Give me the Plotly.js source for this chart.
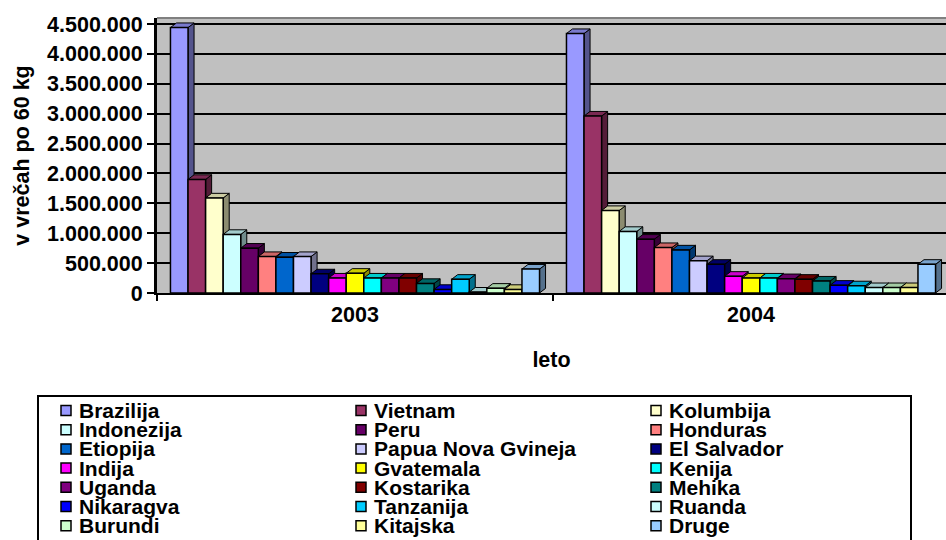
<!DOCTYPE html>
<html>
<head>
<meta charset="utf-8">
<script src="https://cdn.plot.ly/plotly-3.0.1.min.js"></script>
<style>html,body{margin:0;padding:0;background:#fff}</style>
</head>
<body>
<div id="chart" style="width:946px;height:540px"></div>
<script>
// ---- data ----
const years = ['2003', '2004'];
const countries = ['Brazilija', 'Vietnam', 'Kolumbija', 'Indonezija', 'Peru', 'Honduras', 'Etiopija',
  'Papua Nova Gvineja', 'El Salvador', 'Indija', 'Gvatemala', 'Kenija', 'Uganda', 'Kostarika',
  'Mehika', 'Nikaragva', 'Tanzanija', 'Ruanda', 'Burundi', 'Kitajska', 'Druge'];
const values2003 = [4440000, 1900000, 1590000, 980000, 750000, 610000, 600000,
  610000, 320000, 250000, 330000, 250000, 250000, 250000,
  160000, 60000, 230000, 15000, 80000, 60000, 400000];
const values2004 = [4340000, 2960000, 1380000, 1030000, 900000, 760000, 720000,
  540000, 480000, 280000, 250000, 250000, 240000, 230000,
  200000, 130000, 120000, 90000, 90000, 90000, 480000];
const yTickValues = [0, 500000, 1000000, 1500000, 2000000, 2500000, 3000000, 3500000, 4000000, 4500000];
const colors = ['#9999FF', '#993366', '#FFFFCC', '#CCFFFF', '#660066', '#FF8080', '#0066CC',
  '#CCCCFF', '#000080', '#FF00FF', '#FFFF00', '#00FFFF', '#800080', '#800000',
  '#008080', '#0000FF', '#00CCFF', '#CCFFFF', '#CCFFCC', '#FFFF99', '#99CCFF'];

// ---- styling / geometry ----
const FONT = 'Liberation Sans, Arial, Helvetica, sans-serif';
const W = 946, H = 540;
const M = {l: 157, r: 0, t: 18, b: 247};
const xRange = [-0.5, 1.4924];
const yRange = [0, 4600000];
const bargap = 0.068;
const n = countries.length;
const groupW = 1 - bargap;
const bw = groupW / n;
const dx = 0.0152;     // 3D depth, x (category units)
const dy = 77000;      // 3D depth, y (value units)
const fAxis = {family: FONT, size: 21.5, color: '#000', weight: 'bold'};
const fLeg = {family: FONT, size: 21, color: '#000', weight: 'bold'};

function shade(hex, f) {
  const r = parseInt(hex.slice(1, 3), 16), g = parseInt(hex.slice(3, 5), 16), b = parseInt(hex.slice(5, 7), 16);
  return 'rgb(' + Math.round(r * f) + ',' + Math.round(g * f) + ',' + Math.round(b * f) + ')';
}
function fmt(v) {
  return String(v).replace(/\B(?=(\d{3})+(?!\d))/g, '.');
}
const B = s => '<b>' + s + '</b>';

const seriesVals = countries.map((c, k) => [values2003[k], values2004[k]]);

const faceTraces = [];
const barTraces = [];
countries.forEach((name, k) => {
  const sx = [], sy = [], tx = [], ty = [];
  years.forEach((yr, i) => {
    const v = seriesVals[k][i];
    const c = i - groupW / 2 + (k + 0.5) * bw;
    const x0 = c - bw / 2, x1 = c + bw / 2;
    sx.push(x1, x1, x1 + dx, x1 + dx, x1, null);
    sy.push(0, v, v + dy, dy, 0, null);
    tx.push(x0, x1, x1 + dx, x0 + dx, x0, null);
    ty.push(v, v, v + dy, v + dy, v, null);
  });
  faceTraces.push({type: 'scatter', mode: 'lines', x: sx, y: sy, fill: 'toself',
    fillcolor: shade(colors[k], 0.55), line: {color: '#000', width: 1},
    showlegend: false, hoverinfo: 'skip', xaxis: 'x', yaxis: 'y'});
  faceTraces.push({type: 'scatter', mode: 'lines', x: tx, y: ty, fill: 'toself',
    fillcolor: shade(colors[k], 0.8), line: {color: '#000', width: 1},
    showlegend: false, hoverinfo: 'skip', xaxis: 'x', yaxis: 'y'});
  barTraces.push({type: 'bar', name: name, x: [0, 1], y: seriesVals[k],
    marker: {color: colors[k], line: {color: '#000', width: 1.5}},
    showlegend: false, xaxis: 'x2', yaxis: 'y'});
});

// ---- custom legend (3 columns, row-wise) ----
const pw = W - M.l - M.r, ph = H - M.t - M.b;
const px = p => (p - M.l) / pw;
const py = p => (H - M.b - p) / ph;
const shapes = [];
const annotations = [];
shapes.push({type: 'rect', xref: 'paper', yref: 'paper', x0: px(38), x1: px(911), y0: py(396), y1: py(548),
  line: {color: '#000', width: 2}, fillcolor: 'rgba(0,0,0,0)', layer: 'above'});
shapes.push({type: 'line', xref: 'paper', yref: 'paper', x0: 0, x1: 1, y0: 1, y1: 1,
  line: {color: '#808080', width: 2}});
countries.forEach((name, k) => {
  const col = k % 3, row = Math.floor(k / 3);
  const sx = 61 + col * 295;
  const cy = 410.5 + row * 19.2;
  shapes.push({type: 'rect', xref: 'paper', yref: 'paper', x0: px(sx), x1: px(sx + 10), y0: py(cy - 5), y1: py(cy + 5),
    fillcolor: colors[k], line: {color: '#000', width: 1.5}, layer: 'above'});
  annotations.push({xref: 'paper', yref: 'paper', x: px(sx + 16), y: py(cy), xanchor: 'left', yanchor: 'middle',
    text: B(name), showarrow: false, font: fLeg});
});

const layout = {
  width: W, height: H,
  margin: {l: M.l, r: M.r, t: M.t, b: M.b, pad: 0},
  paper_bgcolor: '#fff', plot_bgcolor: '#C0C0C0',
  separators: ',.',
  barmode: 'group', bargap: bargap, bargroupgap: 0,
  showlegend: false,
  font: fAxis,
  xaxis: {range: xRange, tickmode: 'array', tickvals: [0, 1], ticktext: years.map(B), ticks: '', showgrid: false, zeroline: false,
    showline: true, linecolor: '#000', linewidth: 2, ticklabelstandoff: 1,
    tickfont: fAxis,
    minor: {tickvals: [-0.5, 0.5, 1.5], ticks: 'outside', ticklen: 6, tickwidth: 2, tickcolor: '#000', showgrid: false},
    title: {text: B('leto'), standoff: 26, font: fAxis}},
  xaxis2: {range: xRange, overlaying: 'x', visible: false},
  yaxis: {range: yRange, tickmode: 'array', tickvals: yTickValues, ticktext: yTickValues.map(v => B(fmt(v))),
    showgrid: true, gridcolor: '#000', gridwidth: 2,
    zeroline: false, showline: true, linecolor: '#000', linewidth: 3, ticks: 'outside', ticklen: 7, tickwidth: 2,
    tickcolor: '#000', tickfont: fAxis,
    title: {text: B('v vrečah po 60 kg'), standoff: 12, font: fAxis}},
  shapes: shapes,
  annotations: annotations
};

Plotly.newPlot('chart', faceTraces.concat(barTraces), layout, {displayModeBar: false, staticPlot: true});
</script>
</body>
</html>
